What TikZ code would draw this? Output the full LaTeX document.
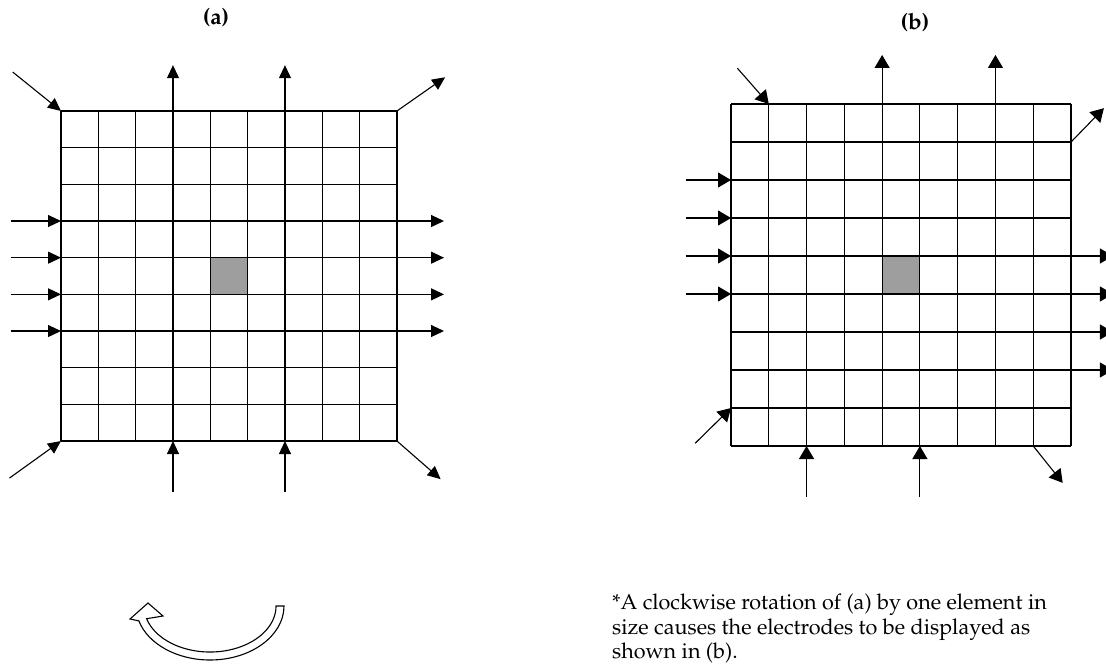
\documentclass[tikz,border=0pt]{standalone}
\usepackage[T1]{fontenc}
\usepackage{mathpazo}
\usepackage{tikz}
\usetikzlibrary{arrows.meta}

\begin{document}
\begin{tikzpicture}[x=1pt, y=-1pt,
    gridline/.style={line width=1.1pt},
    elec/.style={line width=1.1pt, -{Triangle[length=13pt, width=12pt]}},
    elecb/.style={line width=1.1pt, -{Triangle[length=13pt, width=15pt]}},
    probe/.style={fill=black!38, draw=black, line width=1.1pt}]
  \useasboundingbox (0,0) rectangle (1106,671);
  % panel labels
  \node[font=\fontsize{22.5}{24}\selectfont\bfseries] (lab-a) at (216,18) {(a)};
  \node[font=\fontsize{22.5}{24}\selectfont\bfseries] (lab-b) at (915,23) {(b)};

  % (a): 9x9 elements, electrodes on the grid lines
  \begin{scope}[shift={(61,111)}, x=37.33pt, y=-36.67pt]
    \coordinate (a-nw) at (0,0);
    \coordinate (a-ne) at (9,0);
    \coordinate (a-sw) at (0,9);
    \coordinate (a-se) at (9,9);
    \fill[probe] (4,4) rectangle (5,5);
    \foreach \k in {0,...,9} {
      \draw[gridline] (\k,0) -- (\k,9);
      \draw[gridline] (0,\k) -- (9,\k);
    }
    % electrodes top / bottom
    \foreach \k in {3,6} {
      \draw[elec] (\k,0) -- (\k,-1.25);
      \draw[elec] (\k,10.39) -- (\k,9);
    }
    % electrodes left / right
    \foreach \k in {3,...,6} {
      \draw[elec] (-1.35,\k) -- (0,\k);
      \draw[elec] (9,\k) -- (10.26,\k);
    }
    % corners
    \draw[elec] (-1.29,-1.06) -- (a-nw);
    \draw[elec] (a-ne) -- (10.29,-0.92);
    \draw[elec] (-1.38,10.01) -- (a-sw);
    \draw[elec] (a-se) -- (10.17,10.04);
  \end{scope}

  % (b): same array turned by one element
  \begin{scope}[shift={(731,104)}, x=37.78pt, y=-38pt]
    \coordinate (b-n1) at (1,0);
    \coordinate (b-e1) at (9,1);
    \coordinate (b-w8) at (0,8);
    \coordinate (b-s8) at (8,9);
    \fill[probe] (4,4) rectangle (5,5);
    \foreach \k in {0,...,9} {
      \draw[gridline] (\k,0) -- (\k,9);
      \draw[gridline] (0,\k) -- (9,\k);
    }
    \draw[elecb] (4,0) -- (4,-1.29);
    \draw[elecb] (7,0) -- (7,-1.29);
    \draw[elecb] (2,10.33) -- (2,9);
    \draw[elecb] (5,10.33) -- (5,9);
    \foreach \k in {2,...,5}
      \draw[elecb] (-1.2,\k) -- (0,\k);
    \foreach \k in {4,...,7}
      \draw[elecb] (9,\k) -- (10.11,\k);
    % corners
    \draw[elecb] (0.17,-0.94) -- (b-n1);
    \draw[elecb] (b-e1) -- (9.87,0.11);
    \draw[elecb] (-0.95,8.93) -- (b-w8);
    \draw[elecb] (b-s8) -- (8.78,9.97);
  \end{scope}

  % hollow rotation arrow
  \draw[line width=1.1pt, fill=white, line join=miter]
    (284,606) arc[start angle=0, end angle=164, x radius=74, y radius=54]
    -- (130,619) -- (148,603) -- (163,616) -- (146.6,618.7)
    arc[start angle=164, end angle=0, x radius=66, y radius=46] -- cycle;

  % note
  \node[anchor=north west, align=left, font=\fontsize{21.6}{24.5}\selectfont, inner sep=0pt]
    (note) at (612,594) {*A clockwise rotation of (a) by one element in\\
      size causes the electrodes to be displayed as\\
      shown in (b).};
\end{tikzpicture}
\end{document}
